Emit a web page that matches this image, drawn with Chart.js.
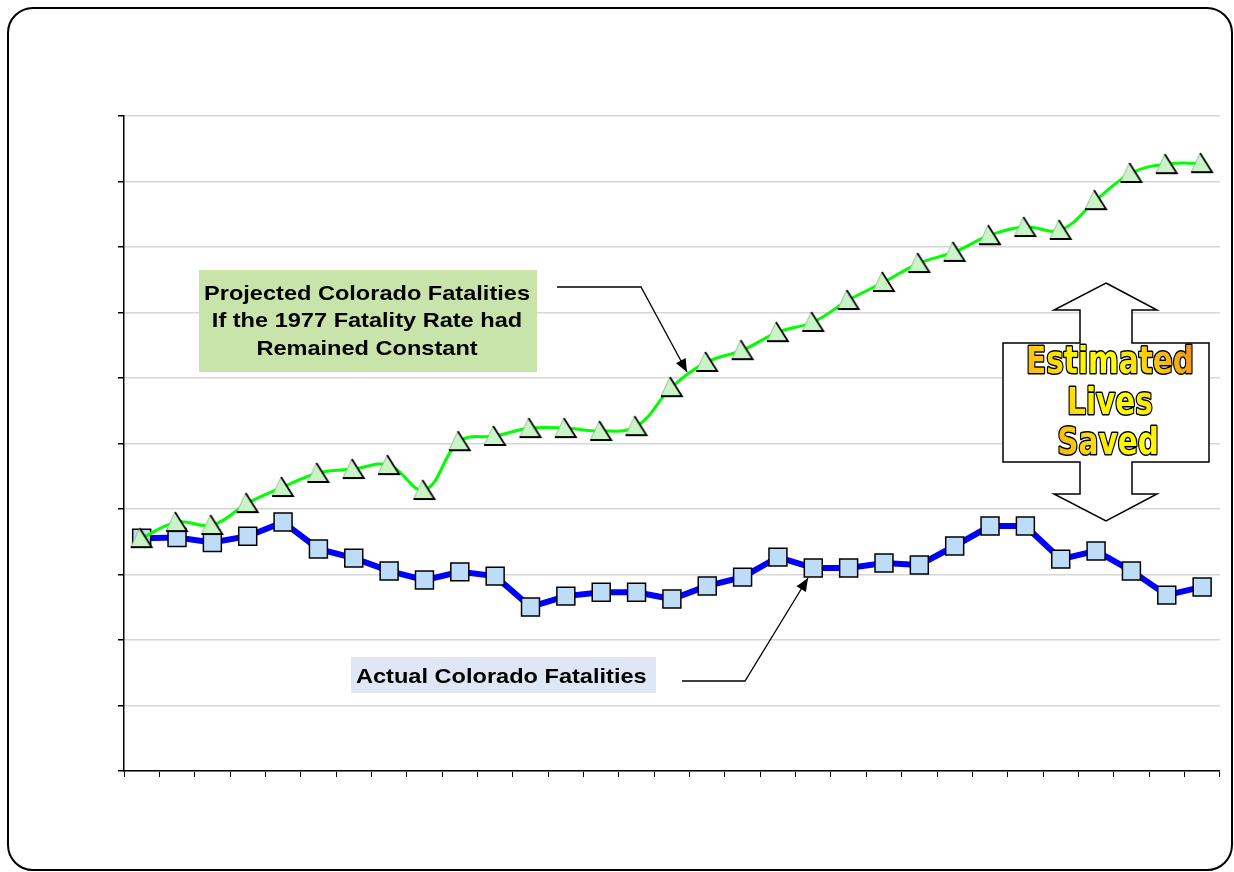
<!DOCTYPE html>
<html>
<head>
<meta charset="utf-8">
<script src="https://cdn.jsdelivr.net/npm/chart.js@4.4.1/dist/chart.umd.min.js"></script>
<style>
  body { margin: 0; background: #fff; }
  #frame {
    position: absolute; left: 7px; top: 7px;
    width: 1222px; height: 860px;
    border: 2px solid #000; border-radius: 26px;
  }
  #chart { position: absolute; left: 0; top: 0; }
</style>
</head>
<body>
<div id="frame"></div>
<canvas id="chart" width="1234" height="872"></canvas>
<script>
// Years (x categories, tick labels hidden as in the original)
const years = ["1977", "1978", "1979", "1980", "1981", "1982", "1983", "1984",
  "1985", "1986", "1987", "1988", "1989", "1990", "1991", "1992", "1993",
  "1994", "1995", "1996", "1997", "1998", "1999", "2000", "2001", "2002",
  "2003", "2004", "2005", "2006", "2007"];

// Actual Colorado fatalities
const actual = [711, 713, 698, 717, 760, 678, 650, 611, 583, 608, 595, 501,
  534, 546, 546, 525, 565, 592, 653, 620, 620, 635, 629, 687, 748, 748, 647,
  672, 611, 537, 562];

// Projected fatalities at the 1977 rate
const projected = [711, 760, 751, 818, 867, 910, 922, 934, 858, 1007, 1023,
  1047, 1047, 1038, 1053, 1172, 1249, 1285, 1340, 1371, 1438, 1493, 1551,
  1585, 1636, 1661, 1652, 1743, 1826, 1853, 1856];

const yMin = 0;
const yMax = 2000;
const yStep = 200;

// triangle marker: light green with a dark edge on the right and bottom
const makeTriangle = () => {
  const c = document.createElement("canvas");
  c.width = 26;
  c.height = 24;
  const g = c.getContext("2d");
  g.beginPath();
  g.moveTo(11, 2);
  g.lineTo(2, 21);
  g.lineTo(23, 21);
  g.closePath();
  g.fillStyle = "#c9f5c6";
  g.fill();
  g.strokeStyle = "#8aa88a";
  g.lineWidth = 0.8;
  g.stroke();
  g.beginPath();
  g.moveTo(11, 2);
  g.lineTo(23, 21);
  g.lineTo(2, 21);
  g.strokeStyle = "#000";
  g.lineWidth = 1.8;
  g.stroke();
  return c;
};

const arrowHead = (ctx, x0, y0, x1, y1) => {
  const a = Math.atan2(y1 - y0, x1 - x0);
  const len = 13, w = 5.5;
  ctx.beginPath();
  ctx.moveTo(x1, y1);
  ctx.lineTo(x1 - len * Math.cos(a) + w * Math.sin(a), y1 - len * Math.sin(a) - w * Math.cos(a));
  ctx.lineTo(x1 - len * Math.cos(a) - w * Math.sin(a), y1 - len * Math.sin(a) + w * Math.cos(a));
  ctx.closePath();
  ctx.fill();
};

const callout = (ctx, pts) => {
  ctx.beginPath();
  ctx.moveTo(pts[0][0], pts[0][1]);
  for (let i = 1; i < pts.length; i++) ctx.lineTo(pts[i][0], pts[i][1]);
  ctx.stroke();
  const n = pts.length;
  arrowHead(ctx, pts[n - 2][0], pts[n - 2][1], pts[n - 1][0], pts[n - 1][1]);
};

// text stretched horizontally, centred or left aligned at x
const wideText = (ctx, text, x, y, sx, align) => {
  ctx.save();
  ctx.setTransform(sx, 0, 0, 1, x, y);
  ctx.textAlign = align;
  ctx.fillText(text, 0, 0);
  ctx.restore();
};

const annotations = {
  id: "annotations",
  afterDraw(chart) {
    const ctx = chart.ctx;
    ctx.save();
    ctx.textBaseline = "alphabetic";

    // projected label
    ctx.fillStyle = "#c9e4ab";
    ctx.fillRect(199, 270, 338, 102);
    ctx.fillStyle = "#000";
    ctx.font = "bold 21px 'Liberation Sans', Arial, sans-serif";
    const sx = 326 / ctx.measureText("Projected Colorado Fatalities").width;
    wideText(ctx, "Projected Colorado Fatalities", 367, 300, sx, "center");
    wideText(ctx, "If the 1977 Fatality Rate had", 367, 327, sx, "center");
    wideText(ctx, "Remained Constant", 367, 355, sx, "center");

    // actual label
    ctx.fillStyle = "#dfe6f4";
    ctx.fillRect(351, 657, 305, 36);
    ctx.fillStyle = "#000";
    wideText(ctx, "Actual Colorado Fatalities", 356, 683, sx, "left");

    // callout lines
    ctx.strokeStyle = "#000";
    ctx.fillStyle = "#000";
    ctx.lineWidth = 1.3;
    callout(ctx, [[557, 287], [641, 287], [687, 372]]);
    callout(ctx, [[682, 681], [745, 681], [808, 578]]);

    // double arrow
    ctx.beginPath();
    ctx.moveTo(1106, 283);
    ctx.lineTo(1157, 310);
    ctx.lineTo(1132, 310);
    ctx.lineTo(1132, 343);
    ctx.lineTo(1209, 343);
    ctx.lineTo(1209, 462);
    ctx.lineTo(1132, 462);
    ctx.lineTo(1132, 494);
    ctx.lineTo(1157, 494);
    ctx.lineTo(1106, 521);
    ctx.lineTo(1054, 494);
    ctx.lineTo(1080, 494);
    ctx.lineTo(1080, 462);
    ctx.lineTo(1003, 462);
    ctx.lineTo(1003, 343);
    ctx.lineTo(1080, 343);
    ctx.lineTo(1080, 310);
    ctx.lineTo(1054, 310);
    ctx.closePath();
    ctx.fillStyle = "#fff";
    ctx.fill();
    ctx.lineWidth = 1.5;
    ctx.stroke();

    // "Estimated Lives Saved"
    ctx.font = "bold 38px 'DejaVu Sans', sans-serif";
    const ex = 168 / ctx.measureText("Estimated").width;
    ctx.textAlign = "center";
    ctx.lineJoin = "round";
    const words = [["Estimated", 1110, 373], ["Lives", 1110, 414], ["Saved", 1108, 454]];
    words.forEach(([t, x, y]) => {
      ctx.save();
      ctx.setTransform(ex, 0, 0, 1, x, y);
      ctx.strokeStyle = "#000";
      ctx.lineWidth = 3;
      ctx.strokeText(t, 0, 0);
      const g2 = ctx.createLinearGradient((1195 - x) / ex, 340 - y, (1025 - x) / ex, 462 - y);
      g2.addColorStop(0, "#f08a22");
      g2.addColorStop(0.42, "#ffff00");
      g2.addColorStop(0.58, "#fff200");
      g2.addColorStop(1, "#f08a22");
      ctx.fillStyle = g2;
      ctx.fillText(t, 0, 0);
      ctx.restore();
    });

    ctx.restore();
  }
};

new Chart(document.getElementById("chart"), {
  type: "line",
  data: {
    labels: years,
    datasets: [
      {
        label: "Projected Colorado Fatalities",
        data: projected,
        borderColor: "#00ff00",
        borderWidth: 3,
        tension: 0.4,
        pointStyle: makeTriangle(),
        pointRadius: 10,
        pointHoverRadius: 10
      },
      {
        label: "Actual Colorado Fatalities",
        data: actual,
        borderColor: "#0000ff",
        borderWidth: 6,
        tension: 0,
        pointStyle: "rect",
        pointRadius: 12.7,
        pointHoverRadius: 12.7,
        pointBackgroundColor: "#bddcf8",
        pointBorderColor: "#000",
        pointBorderWidth: 1.5
      }
    ]
  },
  options: {
    responsive: false,
    animation: false,
    layout: { padding: { left: 118, right: 14, top: 116, bottom: 95 } },
    plugins: {
      legend: { display: false },
      tooltip: { enabled: false },
      title: { display: false }
    },
    scales: {
      x: {
        offset: true,
        grid: {
          offset: true,
          drawOnChartArea: false,
          drawTicks: true,
          tickLength: 6,
          tickColor: "#000"
        },
        border: { display: true, color: "#000", width: 1.5 },
        ticks: { display: false }
      },
      y: {
        min: yMin,
        max: yMax,
        ticks: { display: false, stepSize: yStep },
        grid: {
          color: "#d6d6d6",
          lineWidth: 1.5,
          drawTicks: true,
          tickLength: 6,
          tickColor: "#000"
        },
        border: { display: true, color: "#000", width: 1.5 }
      }
    }
  },
  plugins: [annotations]
});
</script>
</body>
</html>
